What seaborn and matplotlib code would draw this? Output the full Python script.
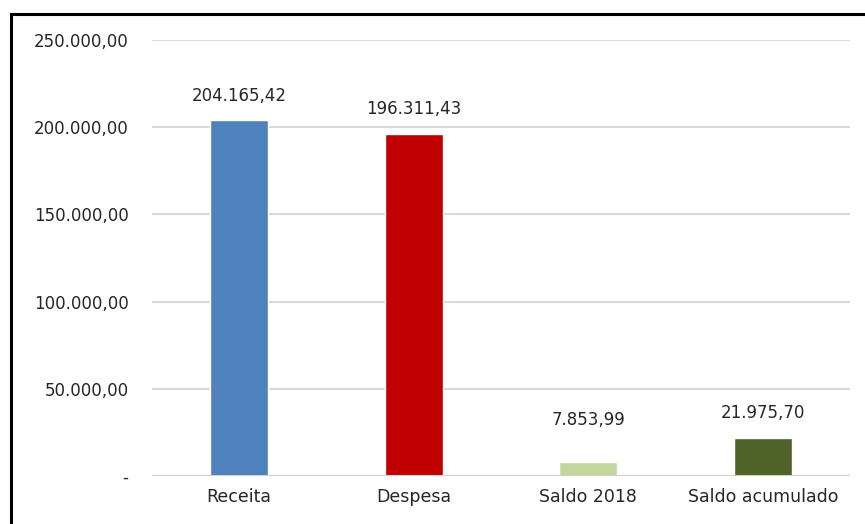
import matplotlib
matplotlib.use("Agg")
import matplotlib.pyplot as plt
import seaborn as sns
import pandas as pd
from matplotlib.patches import Rectangle
from matplotlib.ticker import FixedLocator, FixedFormatter

categories = ["Receita", "Despesa", "Saldo 2018", "Saldo acumulado"]
values = [204165.42, 196311.43, 7853.99, 21975.70]
value_labels = ["204.165,42", "196.311,43", "7.853,99", "21.975,70"]
colors = ["#4F81BD", "#C00000", "#C3D69B", "#4F6228"]
yticks = [0, 50000, 100000, 150000, 200000, 250000]
ytick_labels = ["-", "50.000,00", "100.000,00", "150.000,00", "200.000,00", "250.000,00"]
label_offsets_pt = [11, 11, 24, 11]

sns.set_theme(style="white")
plt.rcParams["font.family"] = ["DejaVu Sans"]

df = pd.DataFrame({"cat": categories, "val": values})

fig = plt.figure(figsize=(8.65, 5.24), dpi=100)
ax = fig.add_axes([152/865, 1-476/524, (850-152)/865, (476-40)/524])

sns.barplot(data=df, x="cat", y="val", hue="cat", palette=colors, legend=False,
            width=0.33, ax=ax, saturation=1, zorder=2)

ax.set_ylim(0, 250000)
ax.yaxis.set_major_locator(FixedLocator(yticks))
ax.yaxis.set_major_formatter(FixedFormatter(ytick_labels))
ax.grid(axis="y", color="#D9D9D9", linewidth=1.5, zorder=0)
ax.set_axisbelow(True)
ax.axhline(0, color="#D0D0D0", linewidth=1.5, zorder=3)
for s in ax.spines.values():
    s.set_visible(False)
ax.set_xlabel("")
ax.set_ylabel("")
ax.tick_params(axis="y", length=0, pad=17, labelsize=12, labelcolor="#262626")
ax.tick_params(axis="x", length=0, pad=9, labelsize=12.5, labelcolor="#262626")

for i, (v, lab) in enumerate(zip(values, value_labels)):
    ax.annotate(lab, (i, v), xytext=(0, label_offsets_pt[i]), textcoords="offset points",
                ha="center", va="bottom", fontsize=12, color="#262626")

fig.patches.append(Rectangle((11/865, -0.1), 1.2, 1 - 14/524 + 0.1,
                             transform=fig.transFigure, fill=False,
                             edgecolor="black", linewidth=2.2, zorder=10))

fig.savefig("out.png", dpi=100)
